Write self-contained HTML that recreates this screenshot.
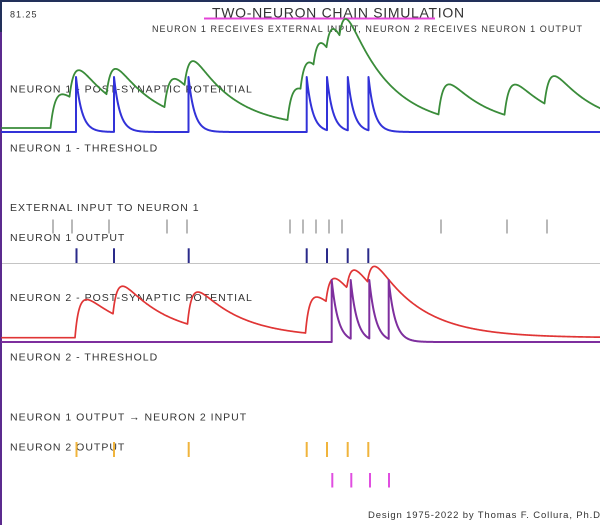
<!DOCTYPE html>
<html>
<head>
<meta charset="utf-8">
<style>
  html,body{margin:0;padding:0;background:#fff;}
  body{width:600px;height:525px;overflow:hidden;position:relative;}
  svg{position:absolute;left:0;top:0;}
  text{font-family:"Liberation Sans","DejaVu Sans",sans-serif;fill:#333;}
  .lbl{font-size:10.5px;letter-spacing:1px;}
</style>
</head>
<body>
<svg id="s" width="600" height="525" viewBox="0 0 600 525" xmlns="http://www.w3.org/2000/svg">
  <rect x="0" y="0" width="600" height="525" fill="#fff"/>
  <!-- borders -->
  <rect x="0" y="0" width="600" height="2" fill="#22305a"/>
  <rect x="0" y="0" width="2" height="32" fill="#22305a"/>
  <rect x="0" y="32" width="2" height="493" fill="#5b2a8e"/>

  <!-- header -->
  <text x="10" y="17.3" style="font-size:9px;letter-spacing:1px;">81.25</text>
  <text x="212" y="17.5" style="font-size:14px;letter-spacing:0.7px;">TWO-NEURON CHAIN SIMULATION</text>
  <rect x="204" y="17.5" width="231" height="2" fill="#e444d8"/>
  <text x="152" y="32" style="font-size:9px;letter-spacing:1.05px;">NEURON 1 RECEIVES EXTERNAL INPUT, NEURON 2 RECEIVES NEURON 1 OUTPUT</text>

  <!-- labels -->
  <text class="lbl" x="10" y="92.3">NEURON 1 - POST-SYNAPTIC POTENTIAL</text>
  <text class="lbl" x="10" y="151.7">NEURON 1 - THRESHOLD</text>
  <text class="lbl" x="10" y="211">EXTERNAL INPUT TO NEURON 1</text>
  <text class="lbl" x="10" y="241">NEURON 1 OUTPUT</text>
  <text class="lbl" x="10" y="301">NEURON 2 - POST-SYNAPTIC POTENTIAL</text>
  <text class="lbl" x="10" y="360.7">NEURON 2 - THRESHOLD</text>
  <text class="lbl" x="10" y="420.7">NEURON 1 OUTPUT → NEURON 2 INPUT</text>
  <text class="lbl" x="10" y="450.7">NEURON 2 OUTPUT</text>
  <text x="368" y="518" style="font-size:9.5px;letter-spacing:0.85px;">Design 1975-2022 by Thomas F. Collura, Ph.D</text>

  <!-- separator -->
  <line x1="2" y1="263.5" x2="600" y2="263.5" stroke="#c4c4c4" stroke-width="1"/>

  <g id="ticks"></g>
  <g id="curves" fill="none" stroke-linejoin="round" stroke-linecap="round"></g>
</svg>
<script>
(function(){
  var NS="http://www.w3.org/2000/svg";
  var ticksG=document.getElementById("ticks");
  var curvesG=document.getElementById("curves");
  function line(x1,y1,x2,y2,stroke,w){
    var l=document.createElementNS(NS,"line");
    l.setAttribute("x1",x1);l.setAttribute("y1",y1);
    l.setAttribute("x2",x2);l.setAttribute("y2",y2);
    l.setAttribute("stroke",stroke);l.setAttribute("stroke-width",w);
    ticksG.appendChild(l);
  }
  function path(d,stroke,w){
    var p=document.createElementNS(NS,"path");
    p.setAttribute("d",d);p.setAttribute("stroke",stroke);
    p.setAttribute("stroke-width",w);p.setAttribute("fill","none");
    curvesG.appendChild(p);
  }
  // External input ticks
  var ext=[53,72,109,167,187,290,303,316,329,342,441,507,547];
  ext.forEach(function(x){line(x,219.5,x,233.5,"#8a8a8a",1.2);});
  // Neuron 1 output
  var n1=[76.5,114,188.7,306.7,327,347.7,368.3];
  n1.forEach(function(x){line(x,248.3,x,263,"#2a2a8a",2);});
  // Orange
  n1.forEach(function(x){line(x,442,x,457,"#f0b43c",2);});
  // Magenta
  var n2=[332.3,351.3,370,389];
  n2.forEach(function(x){line(x,473,x,487.5,"#e04ee0",2);});

  function simODE(inputs,G,ts,tm,E,base){
    var v=0,g=0,k=0,x=2,step=0.5,sub=25,dt=step/sub;
    var d="M2 "+base.toFixed(2);
    while(x<600){
      for(var s=0;s<sub;s++){
        var t=x+s*dt;
        while(k<inputs.length && inputs[k]<=t){g+=G;k++;}
        v+=(-v/tm+g*(E-v))*dt;
        g-=g/ts*dt;
      }
      x+=step;
      d+=" L"+x.toFixed(2)+" "+(base-v).toFixed(2);
    }
    return d;
  }
  function spikes(times,base,H,tau){
    var d="M2 "+base.toFixed(2),last=-1e9,k=0;
    for(var x=2.5;x<=600.001;x+=0.5){
      while(k<times.length && times[k]<=x){
        var ti=times[k];
        var cur=H*Math.exp(-(ti-last)/tau);
        d+=" L"+ti.toFixed(2)+" "+(base-cur).toFixed(2);
        d+=" L"+ti.toFixed(2)+" "+(base-H).toFixed(2);
        last=ti;k++;
      }
      var c=H*Math.exp(-(x-last)/tau);
      d+=" L"+x.toFixed(2)+" "+(base-c).toFixed(2);
    }
    return d;
  }
  // Green: neuron1 PSP
  var gIn=ext.map(function(x){return x-2.5;});
  var tsG=5,tmG=42,A=52,EG=1000;
  var GG=A*(tmG-tsG)/(EG*tsG*tmG);
  path(simODE(gIn,GG,tsG,tmG,EG,128),"#3a8c3a",1.8);
  // Blue: neuron1 spikes
  path(spikes([76,114,188.5,306.7,327,347.8,368.5],132,55,6),"#3232d8",2);
  // Red: neuron2 PSP
  var rIn=[75,113,187.5,305.5,326,346.8,367.5];
  path(simODE(rIn,0.079,5,45,150,337.7),"#e03535",1.7);
  // Purple: neuron2 spikes
  path(spikes([331.7,350.7,369.3,388.7],342,62,6.5),"#7e2f9e",2);
})();
</script>
</body>
</html>
